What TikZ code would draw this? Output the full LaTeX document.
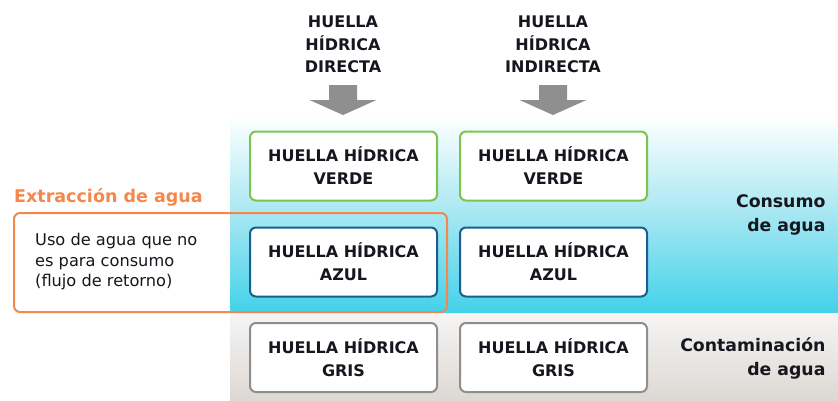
\documentclass[tikz,border=0pt]{standalone}
\usepackage{fontspec}
\setmainfont{DejaVu Sans}
\definecolor{cyanb}{HTML}{42D2EA}
\definecolor{cyanm}{HTML}{A6E7F2}
\definecolor{grayt}{HTML}{F6F5F4}
\definecolor{grayb}{HTML}{DCD8D4}
\definecolor{greenc}{HTML}{7CC44C}
\definecolor{bluec}{HTML}{1D5C8E}
\definecolor{grayc}{HTML}{8E8E8E}
\definecolor{orangec}{HTML}{F4874B}
\definecolor{txt}{HTML}{16161E}
\definecolor{arrowc}{HTML}{8F8F8F}
\begin{document}
\begin{tikzpicture}[x=1pt,y=-1pt,
  hbox/.style={draw, fill=white, line width=2pt, rounded corners=6pt,
    minimum width=187pt, minimum height=69pt, align=center, text=txt,
    font=\fontsize{16}{23}\selectfont\bfseries, inner sep=0pt},
  toplabel/.style={align=center, text=txt, font=\fontsize{16}{22.5}\selectfont\bfseries},
  sidelabel/.style={align=right, anchor=east, text=txt, font=\fontsize{17.3}{24}\selectfont\bfseries},
  blockarrow/.pic={\fill[arrowc] (-14,0) -- (14,0) -- (14,15) -- (33.5,15) -- (0,30) -- (-33.5,15) -- (-14,15) -- cycle;}
]
\useasboundingbox (0,0) rectangle (838,400);
% background bands
\shade[top color=white, bottom color=cyanb, middle color=cyanm] (230,116) rectangle (838,313);
\shade[top color=grayt, bottom color=grayb] (230,313) rectangle (838,400);

% top labels
\node[toplabel] (d) at (343,44.5) {HUELLA\\HÍDRICA\\DIRECTA};
\node[toplabel] (i) at (553,44.5) {HUELLA\\HÍDRICA\\INDIRECTA};
\pic at (343,85) {blockarrow};
\pic at (553,85) {blockarrow};

% boxes
\node[hbox, draw=greenc] (v1) at (343.5,166) {HUELLA HÍDRICA\\VERDE};
\node[hbox, draw=greenc] (v2) at (553.5,166) {HUELLA HÍDRICA\\VERDE};
\node[hbox, draw=bluec] (a1) at (343.5,262) {HUELLA HÍDRICA\\AZUL};
\node[hbox, draw=bluec] (a2) at (553.5,262) {HUELLA HÍDRICA\\AZUL};
\node[hbox, draw=grayc] (g1) at (343.5,357.5) {HUELLA HÍDRICA\\GRIS};
\node[hbox, draw=grayc] (g2) at (553.5,357.5) {HUELLA HÍDRICA\\GRIS};

% side labels
\node[sidelabel] (cons) at (829,215) {Consumo\\de agua};
\node[sidelabel] (cont) at (829,358.5) {Contaminación\\de agua};

% extraction
\draw[orangec, line width=2pt, rounded corners=6pt] (14,213) rectangle (447,312);
\node[anchor=base west, inner sep=0pt, text=orangec, font=\fontsize{17.5}{20}\selectfont\bfseries] (ext) at (14,202) {Extracción de agua};
\node[anchor=west, inner sep=0pt, align=left, text=txt, font=\fontsize{16.2}{20.5}\selectfont] (uso) at (35,262) {Uso de agua que no\\es para consumo\\(flujo de retorno)};
\end{tikzpicture}
\end{document}
